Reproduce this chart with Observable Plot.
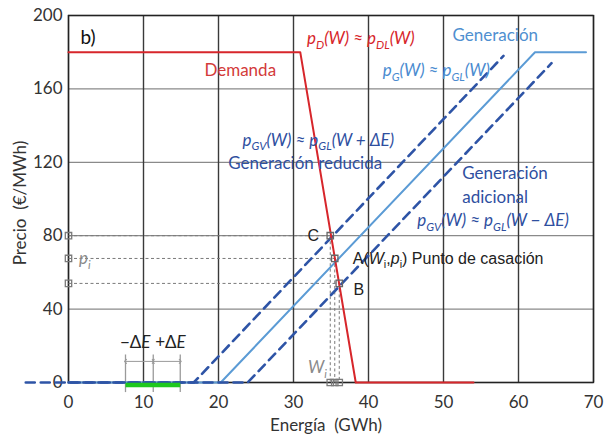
<!DOCTYPE html>
<html><head><meta charset="utf-8">
<script src="https://cdn.jsdelivr.net/npm/d3@7"></script>
<script src="https://cdn.jsdelivr.net/npm/@observablehq/plot@0.6"></script>
<style>body{margin:0;background:#fff}</style>
</head><body><div id="chart"></div>
<script>
// ---- data ----
const demandX = [0, 30.9, 38.3, 54];
const demandY = [180, 180, 0, 0];
const genX = [0, 20.3, 62.2, 69];
const genY = [0, 0, 180, 180];
const reducedX = [-5.7, 16.7, 58];
const reducedY = [0, 0, 178];
const addX = [0, 23.9, 64.4];
const addY = [0, 0, 174];
const pointNames = ["C", "A", "B"];
const pointX = [34.9, 35.5, 36.1];
const pointY = [80, 67.6, 54];
const deltaTicks = [7.6, 11.3, 14.9];
const xTicks = [0, 10, 20, 30, 40, 50, 60, 70];
const yTicks = [0, 40, 80, 120, 160, 200];

const RED = "#d7262b", LBLUE = "#5b9bd5", DBLUE = "#2e54a6", TDBLUE = "#2f4f9f", GREY = "#7a7a7a";

const toPts = (xs, ys) => xs.map((x, i) => ({x, y: ys[i]}));
const demand = toPts(demandX, demandY);
const gen = toPts(genX, genY);
const reduced = toPts(reducedX, reducedY);
const additional = toPts(addX, addY);
const pts = pointNames.map((n, i) => ({n, x: pointX[i], y: pointY[i]}));

const labels = [
  {x: 1.6, y: 188, t: "b)", c: "#111", fs: 19, a: "start", st: "normal", f: "Lato"},
  {x: 22.9, y: 170, t: "Demanda", c: "#d33a3a", fs: 17, a: "middle", st: "normal", f: "Lato"},
  {x: 31.8, y: 187.5, t: "p_{D}(W) ≈ p_{DL}(W)", c: RED, fs: 17, a: "start", st: "italic", f: "Lato"},
  {x: 51.2, y: 189, t: "Generación", c: "#4f8fd0", fs: 17, a: "start", st: "normal", f: "Lato"},
  {x: 41.9, y: 170, t: "p_{G}(W) ≈ p_{GL}(W)", c: "#4a8bd0", fs: 17, a: "start", st: "italic", f: "Lato"},
  {x: 23.2, y: 132, t: "p_{GV}(W) ≈ p_{GL}(W + ΔE)", c: TDBLUE, fs: 17, a: "start", st: "italic", f: "Lato"},
  {x: 21.3, y: 119.3, t: "Generación reducida", c: TDBLUE, fs: 17, a: "start", st: "normal", f: "Lato"},
  {x: 52.5, y: 113.9, t: "Generación", c: TDBLUE, fs: 17, a: "start", st: "normal", f: "Lato"},
  {x: 52.5, y: 100.8, t: "adicional", c: TDBLUE, fs: 17, a: "start", st: "normal", f: "Lato"},
  {x: 46.5, y: 88.3, t: "p_{GV}(W) ≈ p_{GL}(W − ΔE)", c: TDBLUE, fs: 17, a: "start", st: "italic", f: "Lato"},
  {x: 33.4, y: 80, t: "C", c: "#222", fs: 16, a: "end", st: "normal", f: "Liberation Sans"},
  {x: 37.9, y: 67.6, t: "A(*W*_{i},*p*_{i}) Punto de casación", c: "#222", fs: 16, a: "start", st: "normal", f: "Liberation Sans"},
  {x: 38.0, y: 50.7, t: "B", c: "#222", fs: 16, a: "start", st: "normal", f: "Liberation Sans"},
  {x: 1.4, y: 67.6, t: "p_{i}", c: "#8a8a8a", fs: 17, a: "start", st: "italic", f: "Lato"},
  {x: 33.2, y: 8, t: "W_{i}", c: "#8a8a8a", fs: 17, a: "middle", st: "italic", f: "Lato"},
  {x: 8.9, y: 21.8, t: "−Δ*E*", c: "#222", fs: 17, a: "middle", st: "normal", f: "Lato"},
  {x: 13.6, y: 21.8, t: "+Δ*E*", c: "#222", fs: 17, a: "middle", st: "normal", f: "Lato"}
];

const textMarks = labels.map(l => Plot.text([l], {
  x: "x", y: "y", text: "t", fill: l.c, fontSize: l.fs, textAnchor: l.a,
  fontStyle: l.st, fontFamily: l.f
}));

const chart = Plot.plot({
  width: 611, height: 439,
  marginLeft: 68, marginRight: 18, marginTop: 15, marginBottom: 57,
  style: {fontFamily: "Lato", fontSize: "17px", color: "#333", background: "#fff"},
  x: {domain: [0, 70], ticks: xTicks, tickSize: 0, tickPadding: 13, label: null},
  y: {domain: [0, 200], ticks: yTicks, tickSize: 0, tickPadding: 6, label: null},
  marks: [
    Plot.ruleY(yTicks, {stroke: "#8a8a8a", strokeWidth: 1.3}),
    Plot.ruleX(xTicks, {stroke: "#3a3a3a", strokeWidth: 1.4}),
    Plot.frame({stroke: "#222", strokeWidth: 1.4}),
    // helper dashed lines
    Plot.link(pts, {x1: 0, x2: "x", y1: "y", y2: "y", stroke: GREY, strokeWidth: 1, strokeDasharray: "3,2.5"}),
    Plot.link(pts, {x1: "x", x2: "x", y1: "y", y2: 0, stroke: GREY, strokeWidth: 1, strokeDasharray: "3,2.5"}),
    // delta E annotation
    Plot.ruleX(deltaTicks, {y1: -5.5, y2: 15, stroke: "#9a9a9a", strokeWidth: 1.3}),
    Plot.link([{a: deltaTicks[1], b: deltaTicks[0]}, {a: deltaTicks[1], b: deltaTicks[2]}],
      {x1: "a", x2: "b", y1: 11.5, y2: 11.5, stroke: "#9a9a9a", strokeWidth: 1, markerStart: "arrow", markerEnd: "arrow"}),
    // curves
    Plot.line(gen, {x: "x", y: "y", stroke: LBLUE, strokeWidth: 2}),
    Plot.line(reduced, {x: "x", y: "y", stroke: DBLUE, strokeWidth: 2.6, strokeDasharray: "9,6"}),
    Plot.line(additional, {x: "x", y: "y", stroke: DBLUE, strokeWidth: 2.6, strokeDasharray: "9,6"}),
    Plot.line(demand, {x: "x", y: "y", stroke: RED, strokeWidth: 2}),
    Plot.link([{a: deltaTicks[0], b: deltaTicks[2]}], {x1: "a", x2: "b", y1: -1.4, y2: -1.4, stroke: "#1ec81e", strokeWidth: 4.5}),
    // squares
    Plot.dot(pts, {x: 0, y: "y", symbol: "square", r: 3.6, stroke: GREY, strokeWidth: 1.3, fill: "none"}),
    Plot.dot(pts, {x: "x", y: "y", symbol: "square", r: 3.6, stroke: "#666", strokeWidth: 1.3, fill: "none"}),
    Plot.dot(pts, {x: "x", y: 0, symbol: "square", r: 3.6, stroke: GREY, strokeWidth: 1.3, fill: "none"}),
    ...textMarks,
    // axis titles
    Plot.text(["Energía  (GWh)"], {frameAnchor: "bottom", lineAnchor: "middle", textAnchor: "middle", dx: -5, dy: 43, fontSize: 17, fill: "#333", fontFamily: "Lato"}),
    Plot.text(["Precio  (€/MWh)"], {frameAnchor: "left", lineAnchor: "middle", textAnchor: "middle", dx: -48, dy: 4, rotate: -90, fontSize: 17, fill: "#333", fontFamily: "Lato"})
  ]
});

document.getElementById("chart").appendChild(chart);

// rich text: _{...} subscripts, *...* italic toggles
d3.select(chart).selectAll("text").each(function () {
  const t = this.textContent;
  if (!/_\{|\*/.test(t)) return;
  const parts = t.split(/(_\{[^}]*\}|\*)/).filter(s => s !== "");
  const fs = parseFloat(getComputedStyle(this).fontSize) || 16;
  const sh = fs * 0.28;
  const el = d3.select(this);
  el.text(null);
  let italic = false, shifted = false;
  for (const p of parts) {
    if (p === "*") { italic = !italic; continue; }
    const sub = p.startsWith("_{");
    const s = sub ? p.slice(2, -1) : p;
    const ts = el.append("tspan").text(s);
    if (italic) ts.attr("font-style", "italic");
    if (sub) {
      ts.attr("font-size", fs * 0.68);
      if (!shifted) { ts.attr("dy", sh); shifted = true; }
    } else if (shifted) {
      ts.attr("dy", -sh); shifted = false;
    }
  }
});
</script>
</body></html>
